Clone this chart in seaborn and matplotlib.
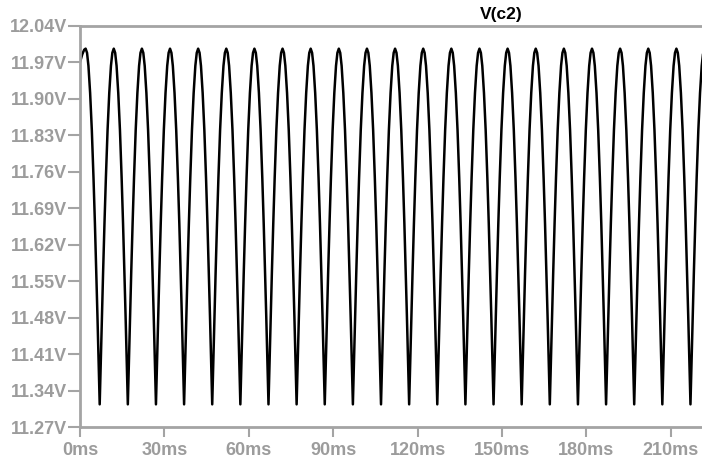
import matplotlib
matplotlib.use("Agg")
import matplotlib.pyplot as plt
import seaborn as sns
import numpy as np
import pandas as pd

# ---- data ----
# initial transient at the start of the simulation (ms, V)
start_t = [0.0, 0.8, 1.5]
start_v = [11.970, 11.985, 11.994]

# times of the ripple minima (ms); -3 is the virtual one before t=0
trough_ms = [-3, 7, 17, 27, 37, 47, 57, 67, 77, 87, 97, 107, 117,
             127, 137, 147, 157, 167, 177, 187, 197, 207, 217]

# one ripple cycle: offset from a minimum (ms) and voltage (V)
cycle_offset_ms = [0.0, 0.4, 0.8, 1.2, 1.7, 2.2, 2.8, 3.4, 4.0, 4.5, 5.0,
                   5.5, 6.0, 6.6, 7.2, 7.8, 8.3, 8.8, 9.2, 9.6]
cycle_volts = [11.314, 11.399, 11.484, 11.565, 11.661, 11.748, 11.840, 11.911,
               11.963, 11.988, 11.996, 11.988, 11.963, 11.911, 11.840, 11.748,
               11.661, 11.565, 11.484, 11.399]

y_ticks = [12.04, 11.97, 11.90, 11.83, 11.76, 11.69, 11.62, 11.55, 11.48,
           11.41, 11.34, 11.27]
x_ticks = [0, 30, 60, 90, 120, 150, 180, 210]
x_end_ms = 221.1
title = "V(c2)"

# ---- assemble the trace ----
ts = list(start_t)
vs = list(start_v)
for tr in trough_ms:
    for off, v in zip(cycle_offset_ms, cycle_volts):
        t = tr + off
        if 2.0 <= t <= x_end_ms + 0.5:
            ts.append(t)
            vs.append(v)
df = pd.DataFrame({"t": ts, "v": vs})

sns.set_style("white")
plt.rcParams['font.family'] = ['Liberation Sans', 'DejaVu Sans']

W, H = 702, 462
fig = plt.figure(figsize=(W / 100, H / 100), dpi=100)
ax = fig.add_axes([80 / W, (H - 427.3) / H, 622 / W, 401.6 / H])

sns.lineplot(data=df, x="t", y="v", sort=False, estimator=None,
             color="black", linewidth=1.8, ax=ax)

ax.set_xlim(0, x_end_ms)
ax.set_ylim(min(y_ticks), max(y_ticks))
ax.set_xlabel("")
ax.set_ylabel("")

gray = "#a4a4a4"
lab = "#9c9c9c"
for s in ["left", "bottom", "top"]:
    ax.spines[s].set_color(gray)
    ax.spines[s].set_linewidth(2.0)
ax.spines["right"].set_visible(False)

ax.set_yticks(y_ticks)
ax.set_yticklabels([f"{v:.2f}V" for v in y_ticks])
ax.set_xticks(x_ticks)
ax.set_xticklabels([f"{v}ms" for v in x_ticks])

ax.tick_params(axis="y", direction="out", length=9, width=1.5, color=gray,
               pad=0.5, labelsize=13, labelcolor=lab, left=True)
ax.tick_params(axis="x", direction="out", length=7, width=1.5, color=gray,
               pad=3.5, labelsize=13, labelcolor=lab, bottom=True)
for lbl in ax.get_xticklabels() + ax.get_yticklabels():
    lbl.set_fontweight("bold")

fig.text(501 / W, 1 - 15 / H, title, ha="center", va="center",
         fontsize=12.5, fontweight="bold", color="black")

fig.savefig("out.png", dpi=100, facecolor="white")
